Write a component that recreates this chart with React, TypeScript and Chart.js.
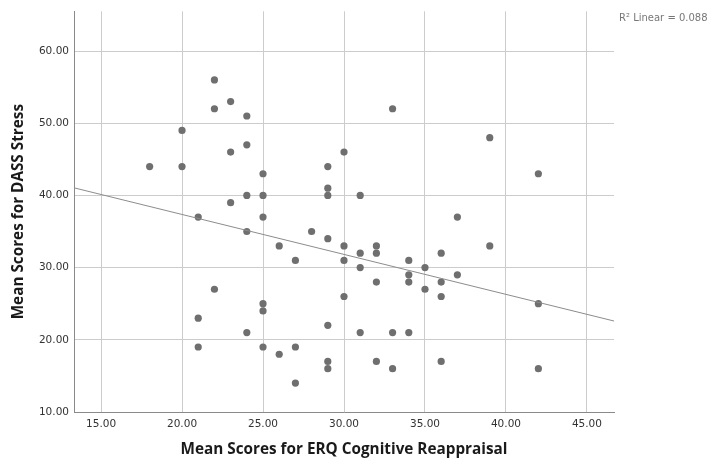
import React, { useEffect, useRef } from "react";
import { Chart, registerables } from "chart.js";

Chart.register(...registerables);

// ERQ Cognitive Reappraisal (x) vs DASS Stress (y)
const erqScores = [
  18,
  20, 20,
  21, 21, 21,
  22, 22, 22,
  23, 23, 23,
  24, 24, 24, 24, 24,
  25, 25, 25, 25, 25, 25,
  26, 26,
  27, 27, 27,
  28,
  29, 29, 29, 29, 29, 29, 29,
  30, 30, 30, 30,
  31, 31, 31, 31,
  32, 32, 32, 32,
  33, 33, 33,
  34, 34, 34, 34,
  35, 35,
  36, 36, 36, 36,
  37, 37,
  39, 39,
  42, 42, 42,
];
const dassStress = [
  44,
  49, 44,
  37, 23, 19,
  56, 52, 27,
  53, 46, 39,
  51, 47, 40, 35, 21,
  43, 40, 37, 25, 24, 19,
  33, 18,
  31, 19, 14,
  35,
  44, 41, 40, 34, 22, 17, 16,
  46, 33, 31, 26,
  40, 32, 30, 21,
  33, 32, 28, 17,
  52, 21, 16,
  31, 29, 28, 21,
  30, 27,
  32, 28, 26, 17,
  37, 29,
  48, 33,
  43, 25, 16,
];

const xTicks = [15, 20, 25, 30, 35, 40, 45];
const yTicks = [10, 20, 30, 40, 50, 60];
const xMin = 13.33;
const xMax = 46.67;
const yMin = 10;
const yMax = 65.5;

// fit line
const fitStartY = 41.05; // at xMin
const fitEndY = 22.6; // at xMax
const r2Label = "R\u00B2 Linear = 0.088";

const xTitle = "Mean Scores for ERQ Cognitive Reappraisal";
const yTitle = "Mean Scores for DASS Stress";

export default function App() {
  const canvasRef = useRef<HTMLCanvasElement | null>(null);

  useEffect(() => {
    const canvas = canvasRef.current;
    if (!canvas) return;

    const points = erqScores.map((x, i) => ({ x, y: dassStress[i] }));
    const fitLine = [
      { x: xMin, y: fitStartY },
      { x: xMax, y: fitEndY },
    ];

    const r2Plugin = {
      id: "r2label",
      afterDraw(chart: any) {
        const ctx = chart.ctx;
        ctx.save();
        ctx.font = "10px 'DejaVu Sans'";
        ctx.fillStyle = "#777777";
        ctx.textAlign = "left";
        ctx.textBaseline = "middle";
        ctx.fillText(r2Label, 619, 18);
        ctx.restore();
      },
    };

    const chart = new Chart(canvas, {
      type: "scatter",
      data: {
        datasets: [
          {
            type: "line",
            data: fitLine,
            borderColor: "#8c8c8c",
            borderWidth: 1,
            pointRadius: 0,
            showLine: true,
            fill: false,
            order: 1,
          } as any,
          {
            data: points,
            backgroundColor: "#6f6f6f",
            borderWidth: 0,
            pointRadius: 3.6,
            order: 2,
          },
        ],
      },
      options: {
        animation: false,
        responsive: false,
        maintainAspectRatio: false,
        layout: { padding: { top: 10, right: 95, left: 0, bottom: 0 } },
        plugins: {
          legend: { display: false },
          tooltip: { enabled: false },
        },
        scales: {
          x: {
            type: "linear",
            min: xMin,
            max: xMax,
            afterBuildTicks: (s: any) => {
              s.ticks = xTicks.map((v) => ({ value: v }));
            },
            afterFit: (s: any) => {
              s.height = 49;
            },
            grid: { color: "#cccccc", lineWidth: 1, drawTicks: false },
            border: { color: "#8a8a8a", width: 1 },
            ticks: {
              padding: 6,
              color: "#333333",
              font: { family: "'DejaVu Sans'", size: 10.5 },
              callback: (v: any) => Number(v).toFixed(2),
            },
            title: {
              display: true,
              text: xTitle,
              color: "#1a1a1a",
              font: { family: "'Open Sans'", size: 15.3, weight: "bold" },
              padding: { top: 0, bottom: 2 },
            },
          },
          y: {
            type: "linear",
            min: yMin,
            max: yMax,
            afterBuildTicks: (s: any) => {
              s.ticks = yTicks.map((v) => ({ value: v }));
            },
            afterFit: (s: any) => {
              s.width = 74;
            },
            grid: { color: "#cccccc", lineWidth: 1, drawTicks: false },
            border: { color: "#8a8a8a", width: 1 },
            ticks: {
              padding: 5,
              color: "#333333",
              font: { family: "'DejaVu Sans'", size: 10.5 },
              callback: (v: any) => Number(v).toFixed(2),
            },
            title: {
              display: true,
              text: yTitle,
              color: "#1a1a1a",
              font: { family: "'Open Sans'", size: 15.3, weight: "bold" },
              padding: { top: 9, bottom: 0 },
            },
          },
        },
      },
      plugins: [r2Plugin],
    });

    return () => chart.destroy();
  }, []);

  return (
    <div style={{ position: "absolute", left: 0, top: 0, width: 709, height: 461, background: "#ffffff" }}>
      <canvas ref={canvasRef} width={709} height={461} style={{ display: "block", width: 709, height: 461 }} />
    </div>
  );
}
